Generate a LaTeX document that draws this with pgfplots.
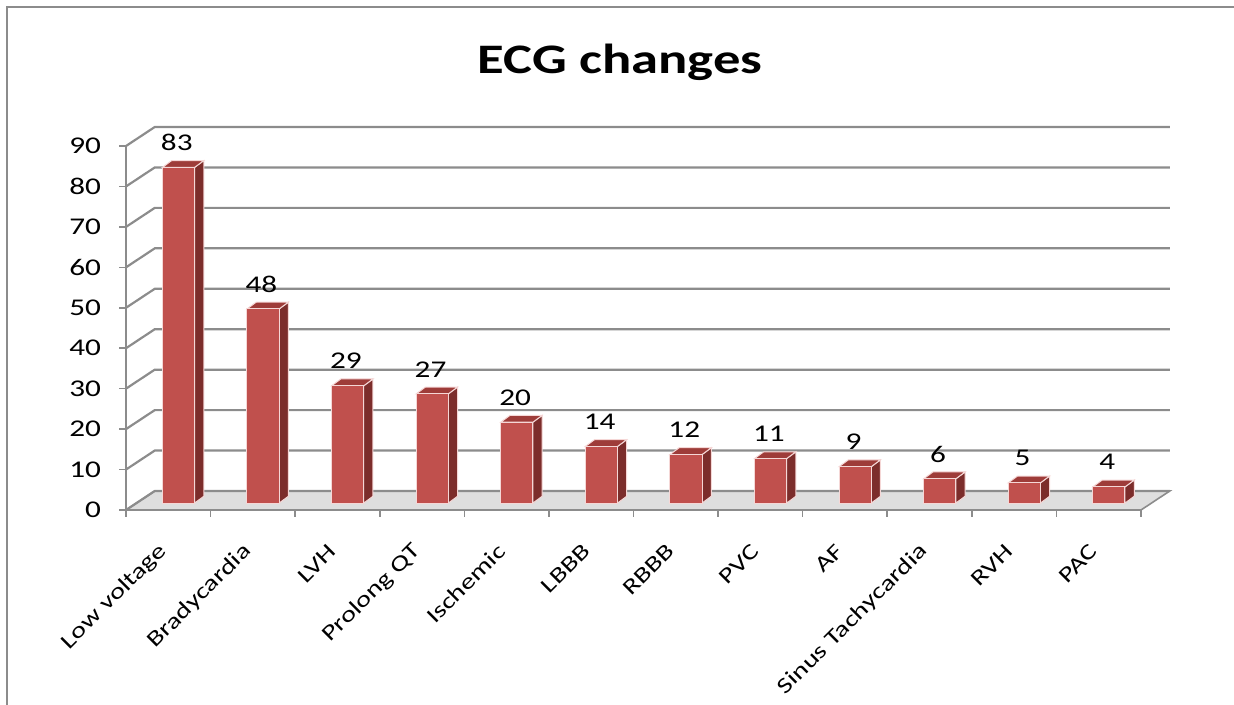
\documentclass[border=0pt]{standalone}
\usepackage{pgfplots}
\pgfplotsset{compat=1.18}
\usepackage{pgfplotstable}
\usepackage{fontspec}
\setmainfont{Carlito}[FakeStretch=1.3]
\definecolor{barfrontc}{RGB}{192,80,77}
\definecolor{barsidec}{RGB}{124,45,43}
\definecolor{bartopc}{RGB}{158,60,57}
\definecolor{barout}{RGB}{245,215,214}
\definecolor{gridc}{RGB}{140,140,140}
\definecolor{floorc}{RGB}{222,222,222}

\pgfplotstableread{
x v
0 83
1 48
2 29
3 27
4 20
5 14
6 12
7 11
8 9
9 6
10 5
11 4
}\ecgtable

\tikzset{
  barfront/.style={fill=barfrontc, draw=barout, line width=0.5pt},
  barside/.style={fill=barsidec, draw=barout, line width=0.5pt},
  bartop/.style={fill=bartopc, draw=barout, line width=0.5pt},
}

\newcommand\threedbar[2]{%
  \pgfmathsetmacro\xa{#1+0.43}%
  \pgfmathsetmacro\xb{#1+0.81}%
  \pgfmathsetmacro\xc{#1+0.92}%
  \pgfmathsetmacro\xe{#1+0.54}%
  \pgfmathsetmacro\ya{1.7}%
  \pgfmathsetmacro\yd{1.7+1.7}%
  \pgfmathsetmacro\yb{#2+1.7}%
  \pgfmathsetmacro\yf{#2+1.7+1.7}%
  \edef\mytemp{%
    \noexpand\addplot[barside] coordinates {(\xb,\ya) (\xc,\yd) (\xc,\yf) (\xb,\yb)} --cycle;
    \noexpand\addplot[bartop] coordinates {(\xa,\yb) (\xb,\yb) (\xc,\yf) (\xe,\yf)} --cycle;
    \noexpand\addplot[barfront] coordinates {(\xa,\ya) (\xb,\ya) (\xb,\yb) (\xa,\yb)} --cycle;
  }\mytemp
}

\newcommand\gridrow[1]{%
  \pgfmathsetmacro\gy{#1+4.7}%
  \edef\mytemp{%
    \noexpand\addplot[gridc, line width=1.1pt] coordinates {(0,#1) (0.34,\gy) (12.34,\gy)};
  }\mytemp
}

\begin{document}
\begin{tikzpicture}
\path[use as bounding box] (0,0) rectangle (617pt,352.5pt);
\draw[gridc, line width=1.3pt] (3.5pt,0) -- (3.5pt,349pt) -- (617pt,349pt);
\node[anchor=base, font=\bfseries\fontsize{21}{25}\selectfont] at (310pt,315.5pt) {ECG changes};
\begin{axis}[
  at={(63pt,97.5pt)}, anchor=south west,
  scale only axis, width=507.5pt, height=182pt,
  xmin=0, xmax=12, ymin=0, ymax=90,
  clip=false,
  axis lines*=left,
  axis line style={gridc, line width=1.1pt},
  /pgf/number format/assume math mode=true,
  tick align=outside,
  ytick={0,10,...,90},
  major tick length=3.5pt,
  minor tick length=3.5pt,
  ytick style={gridc, line width=0.8pt},
  xtick={0.5,1.5,...,11.5},
  xticklabels={Low voltage,Bradycardia,LVH,Prolong QT,Ischemic,LBBB,RBBB,PVC,AF,Sinus Tachycardia,RVH,PAC},
  major x tick style={draw=none},
  minor xtick={0,1,...,12},
  minor x tick style={gridc, line width=0.8pt},
  yticklabel style={font=\fontsize{12}{14}\selectfont},
  yticklabel shift=5.5pt,
  xticklabel style={rotate=45, anchor=east, font=\fontsize{11}{13}\selectfont},
  xticklabel shift=13pt,
]
% floor
\addplot[fill=floorc, draw=gridc, line width=0.8pt] coordinates {(0,0) (12,0) (12.34,4.7) (0.34,4.7)} --cycle;
% walls
\pgfplotsinvokeforeach{0,10,...,90}{\gridrow{#1}}
% bars
\pgfplotsinvokeforeach{0,...,11}{%
  \pgfplotstablegetelem{#1}{v}\of\ecgtable
  \threedbar{#1}{\pgfplotsretval}%
}
% data labels
\addplot[draw=none, mark=none, nodes near coords, point meta=explicit,
  every node near coord/.append style={anchor=center, font=\fontsize{12}{14}\selectfont}]
  table[x expr=\thisrow{x}+0.6, y expr=\thisrow{v}+7.8, meta=v] \ecgtable;
\end{axis}
\end{tikzpicture}
\end{document}
